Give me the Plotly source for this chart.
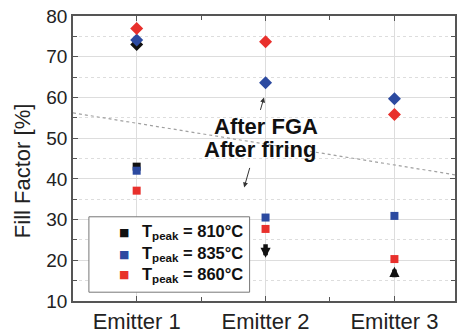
import plotly.graph_objects as go

emitters = ["Emitter 1", "Emitter 2", "Emitter 3"]
xpos = [0, 1, 2]

# After FGA (diamonds)
fga_810 = [73.0, None, None]
fga_835 = [74.1, 63.6, 59.7]
fga_860 = [76.9, 73.7, 55.8]

# After firing (squares)
fir_810 = [43.0, None, None]
fir_835 = [42.0, 30.5, 30.9]
fir_860 = [37.1, 27.7, 20.3]

# 810 C values shown as block arrows (tip positions)
arrow_down_810 = [None, 20.6, None]
arrow_up_810 = [None, None, 18.4]

# dotted guide line
trend_x = [-0.494, 2.47]
trend_y = [56.2, 41.0]

labels = ["T<sub>peak</sub> = 810°C", "T<sub>peak</sub> = 835°C", "T<sub>peak</sub> = 860°C"]
colors = ["#111111", "#2c4aa0", "#e8302c"]

FONT = "Liberation Sans"

fig = go.Figure()

fig.add_trace(go.Scatter(x=trend_x, y=trend_y, mode="lines",
                         line=dict(color="#a0a0a0", width=1.2, dash="dot"),
                         showlegend=False, hoverinfo="skip"))

for ys, c in zip([fga_810, fga_835, fga_860], colors):
    fig.add_trace(go.Scatter(x=xpos, y=ys, mode="markers", showlegend=False,
                             marker=dict(symbol="diamond", size=10, color=c)))

for ys, c in zip([fir_810, fir_835, fir_860], colors):
    fig.add_trace(go.Scatter(x=xpos, y=ys, mode="markers", showlegend=False,
                             marker=dict(symbol="square", size=8, color=c)))

# block arrows for 810 C
for xv, yv in zip(xpos, arrow_down_810):
    if yv is not None:
        fig.add_annotation(x=xv, y=yv, ax=0, ay=-15, text="", showarrow=True,
                           arrowhead=2, arrowsize=0.45, arrowwidth=4.5, arrowcolor="#111111")
for xv, yv in zip(xpos, arrow_up_810):
    if yv is not None:
        fig.add_annotation(x=xv, y=yv, ax=0, ay=12, text="", showarrow=True,
                           arrowhead=2, arrowsize=0.45, arrowwidth=4.5, arrowcolor="#111111")

fig.add_annotation(x=1.0, y=52.8, text="<b>After FGA</b>", showarrow=False,
                   font=dict(size=22, color="#111111", family=FONT))
fig.add_annotation(x=0.96, y=47.1, text="<b>After firing</b>", showarrow=False,
                   font=dict(size=22, color="#111111", family=FONT))
fig.add_annotation(x=0.988, y=60.0, ax=-4, ay=14, text="", showarrow=True,
                   arrowhead=2, arrowsize=1, arrowwidth=1, arrowcolor="#333333")
fig.add_annotation(x=0.834, y=37.9, ax=6, ay=-21, text="", showarrow=True,
                   arrowhead=2, arrowsize=1, arrowwidth=1, arrowcolor="#333333")

# y-axis title
fig.add_annotation(xref="paper", yref="paper", x=-0.1325, y=0.457, xanchor="center", yanchor="middle",
                   text="Fill Factor [%]", textangle=-90, showarrow=False,
                   font=dict(size=22, color="#222222", family=FONT))

# legend box
fig.add_shape(type="rect", xref="paper", yref="paper", x0=0.0416, x1=0.4623, y0=0.0309, y1=0.2955,
              line=dict(color="#777777", width=1), fillcolor="white", layer="above")
leg_y = [0.2405, 0.1649, 0.0928]
for ly, c, lab in zip(leg_y, colors, labels):
    fig.add_annotation(xref="paper", yref="paper", x=0.1325, y=ly, xanchor="center", yanchor="middle",
                       text="■", showarrow=False,
                       font=dict(size=11, color=c, family="DejaVu Sans"))
    fig.add_annotation(xref="paper", yref="paper", x=0.1766, y=ly, xanchor="left", yanchor="middle",
                       text="<b>" + lab + "</b>", showarrow=False,
                       font=dict(size=16.5, color="#111111", family=FONT))

axis_common = dict(showline=True, linecolor="#555555", linewidth=1.5, mirror="ticks",
                   ticks="inside", ticklen=5, tickcolor="#555555", zeroline=False)

fig.update_xaxes(range=[-0.494, 2.47], tickvals=xpos, ticktext=emitters,
                 showgrid=True, gridcolor="#dddddd", gridwidth=1,
                 tickfont=dict(size=22, color="#222222", family=FONT),
                 minor=dict(dtick=0.5, tick0=0, ticks="inside", ticklen=4, tickcolor="#555555"),
                 **axis_common)
fig.update_yaxes(range=[10, 80], dtick=10, tick0=0,
                 showgrid=True, gridcolor="#dddddd", gridwidth=1,
                 tickfont=dict(size=19, color="#222222", family=FONT),
                 minor=dict(dtick=5, tick0=0, ticks="inside", ticklen=4, tickcolor="#555555",
                            showgrid=True, gridcolor="#dddddd", griddash="dot"),
                 **axis_common)

fig.update_layout(width=458, height=335, margin=dict(l=73, r=1, t=16, b=28),
                  paper_bgcolor="white", plot_bgcolor="white",
                  font=dict(family=FONT), showlegend=False)

fig.write_html("out.html")
